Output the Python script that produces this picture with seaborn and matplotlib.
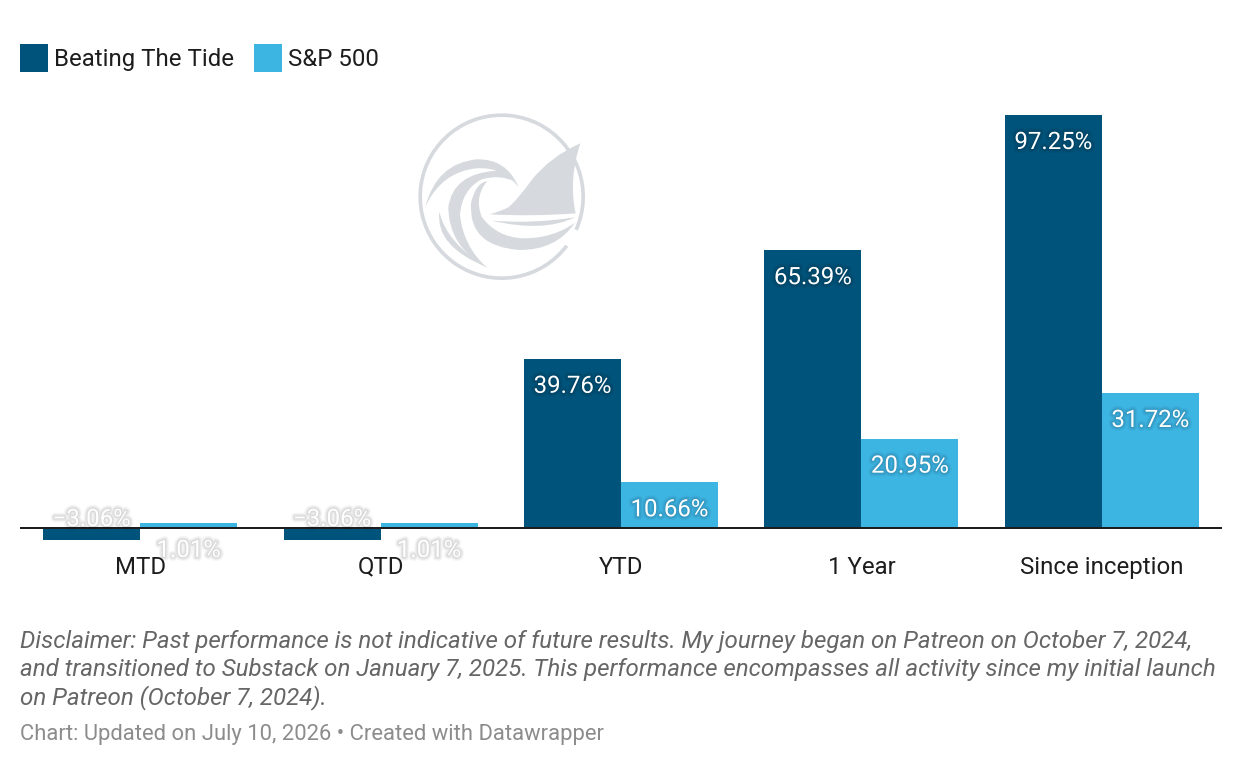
import matplotlib
matplotlib.use("Agg")
import matplotlib.pyplot as plt
import matplotlib.patheffects as pe
from matplotlib.patches import PathPatch, Wedge
from matplotlib.path import Path
import pandas as pd
import seaborn as sns

periods = ["MTD", "QTD", "YTD", "1 Year", "Since inception"]
beating_the_tide = [-3.06, -3.06, 39.76, 65.39, 97.25]
sp_500 = [1.01, 1.01, 10.66, 20.95, 31.72]
series_names = ["Beating The Tide", "S&P 500"]
series_colors = ["#00537A", "#3DB5E3"]

disclaimer_lines = [
    "Disclaimer: Past performance is not indicative of future results. My journey began on Patreon on October 7, 2024,",
    "and transitioned to Substack on January 7, 2025. This performance encompasses all activity since my initial launch",
    "on Patreon (October 7, 2024).",
]
credit = "Chart: Updated on July 10, 2026 • Created with Datawrapper"

W, H = 1242, 766
PX = 0.72  # points per pixel at 100 dpi
ZERO_Y, TOP_Y, AX_TOP, AX_BOTTOM = 527.5, 115.0, 100.0, 552.0
px_per_unit = (ZERO_Y - TOP_Y) / max(beating_the_tide)

sns.set_theme(style="white")
plt.rcParams["font.family"] = ["Roboto", "DejaVu Sans"]

fig = plt.figure(figsize=(W / 100, H / 100), dpi=100, facecolor="white")
ax = fig.add_axes([20 / W, 1 - AX_BOTTOM / H, 1202 / W, (AX_BOTTOM - AX_TOP) / H])

df = pd.DataFrame({
    "period": periods * 2,
    "value": beating_the_tide + sp_500,
    "series": [series_names[0]] * 5 + [series_names[1]] * 5,
})
sns.barplot(
    data=df, x="period", y="value", hue="series", order=periods,
    hue_order=series_names, palette=series_colors, width=0.807, gap=0,
    saturation=1, legend=False, linewidth=0, edgecolor="none", ax=ax,
)
ax.set_xlim(-0.5, 4.5)
ax.set_ylim((ZERO_Y - AX_BOTTOM) / px_per_unit, (ZERO_Y - AX_TOP) / px_per_unit)
ax.set_xlabel("")
ax.set_ylabel("")
ax.set_yticks([])
ax.tick_params(axis="x", length=0, pad=2.6, labelsize=24 * PX, labelcolor="#1d1d1d")
for spine in ax.spines.values():
    spine.set_visible(False)
ax.patch.set_alpha(0)
ax.axhline(0, color="#1d1d1d", lw=2 * PX, zorder=5)

# Value labels: inside the bar end when it fits, otherwise across the baseline
halo = [
    pe.Stroke(linewidth=5.5, foreground="#000000", alpha=0.04),
    pe.Stroke(linewidth=3.5, foreground="#000000", alpha=0.06),
    pe.Stroke(linewidth=1.5, foreground="#000000", alpha=0.06),
    pe.Normal(),
]
for container in ax.containers:
    for bar in container:
        value = bar.get_height() if bar.get_y() == 0 else bar.get_y()
        xc = bar.get_x() + bar.get_width() / 2
        if value > 5:
            y, dy = value, -25
        elif value < 0:
            y, dy = 0, 10.5
        else:
            y, dy = 0, -20.5
        ax.annotate(
            f"{value:.2f}%".replace("-", "\u2212"), xy=(xc, y),
            xytext=(0, dy * PX), textcoords="offset points",
            ha="center", va="center_baseline", color="white",
            fontsize=24 * PX, path_effects=halo, zorder=6,
        )

ax.legend(
    handles=[ax.containers[0], ax.containers[1]], labels=series_names,
    loc="upper left", bbox_to_anchor=(20 / W, 1 - 44 / H),
    bbox_transform=fig.transFigure, ncol=2, frameon=False, borderpad=0,
    borderaxespad=0, fontsize=24 * PX, labelcolor="#1d1d1d",
    handlelength=28 / 24, handleheight=1.418, handletextpad=5.5 / 24,
    columnspacing=20.5 / 24,
)

# Circular sail-and-wave emblem behind the bars
logo_ax = fig.add_axes([400 / W, 1 - 290 / H, 200 / W, 190 / H], zorder=-1)
logo_ax.set_xlim(0, 600)
logo_ax.set_ylim(570, 0)
logo_ax.axis("off")
LOGO = "#D6DADE"
logo_ax.add_patch(Wedge((305, 290), 250, 37, 384, width=11,
                        facecolor=LOGO, edgecolor="none"))
M, L, C, Z = Path.MOVETO, Path.LINETO, Path.CURVE3, Path.CLOSEPOLY


def shape(points, codes):
    logo_ax.add_patch(PathPatch(Path(points, codes), facecolor=LOGO, edgecolor="none"))


# Sail
shape([(541, 130), (450, 170), (395, 240), (352, 300), (325, 322), (300, 335), (268, 343),
       (400, 350), (527, 340), (505, 240), (541, 130), (541, 130)],
      [M, C, C, C, C, C, C, C, C, C, C, Z])
# Water stroke
shape([(275, 362), (400, 372), (525, 352), (430, 398), (275, 362), (275, 362)],
      [M, C, C, C, C, Z])
# Outer wave crest
shape([(76, 320), (110, 190), (230, 178), (320, 175), (356, 262), (310, 200), (230, 205),
       (125, 215), (76, 320), (76, 320)],
      [M, C, C, C, C, C, C, C, C, Z])
# Middle wave
shape([(262, 504), (145, 440), (145, 320), (160, 220), (290, 212), (335, 222), (345, 245),
       (300, 222), (245, 238), (185, 270), (180, 345), (190, 440), (262, 504), (262, 504)],
      [M, C, C, C, C, C, C, C, C, C, C, C, C, Z])
# Inner wave sweeping into the water
shape([(525, 368), (470, 450), (360, 450), (205, 440), (213, 310), (225, 250), (262, 243),
       (222, 290), (245, 350), (290, 412), (370, 415), (460, 415), (525, 368), (525, 368)],
      [M, C, C, C, C, C, C, C, C, C, C, C, C, Z])
# Thin trailing stroke on the left
shape([(118, 335), (105, 440), (262, 502), (140, 430), (118, 335), (118, 335)],
      [M, C, C, C, C, Z])

for line, y_px in zip(disclaimer_lines, [639, 667, 695]):
    fig.text(20 / W, 1 - y_px / H, line, ha="left", va="center_baseline", style="italic",
             fontsize=24.17 * PX, color="#666666")
fig.text(20 / W, 1 - 732 / H, credit, ha="left", va="center_baseline",
         fontsize=21.96 * PX, color="#8c8c8c")

fig.savefig("out.png", dpi=100, facecolor="white")
